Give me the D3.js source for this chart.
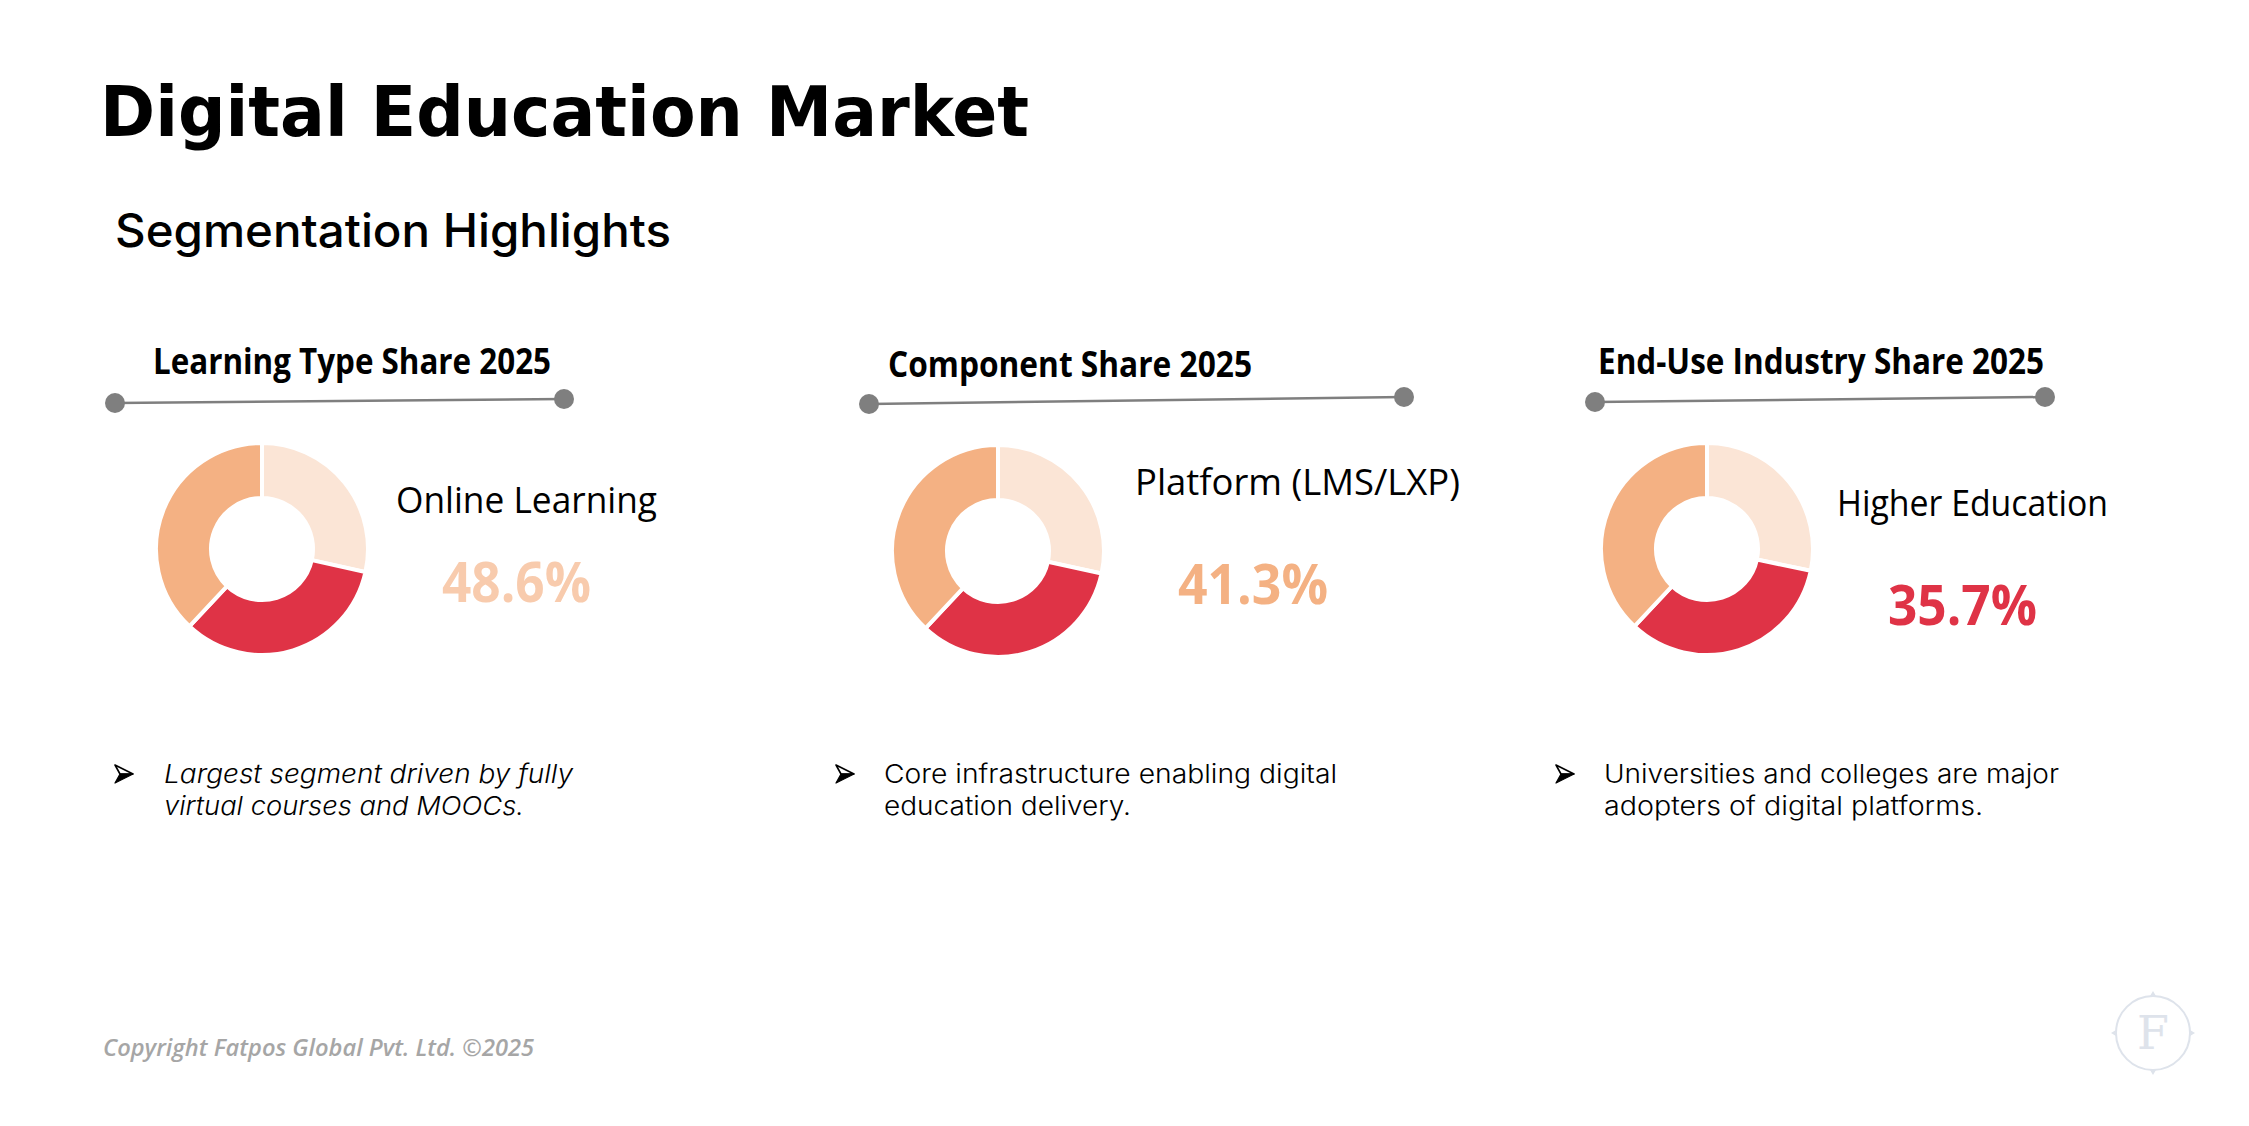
<!DOCTYPE html>
<html>
<head>
<meta charset="utf-8">
<script src="https://cdn.jsdelivr.net/npm/d3@7"></script>
<style>
    html, body { margin: 0; padding: 0; background: #ffffff; }
    svg { display: block; }
</style>
</head>
<body>
<div id="chart"></div>
<script>
'use strict';

// ---- data ----
const pageTitle = "Digital Education Market";
const sectionTitle = "Segmentation Highlights";
const panelTitles = ["Learning Type Share 2025", "Component Share 2025", "End-Use Industry Share 2025"];
const highlightLabels = ["Online Learning", "Platform (LMS/LXP)", "Higher Education"];
const highlightValues = [48.6, 41.3, 35.7];
// donut slices, clockwise from 12 o'clock: light, red, orange
const sliceNames = ["Other", "Blended", "Leading"];
const donutShares = [
    [28.5, 33.5, 38.0],
    [28.4, 33.6, 38.0],
    [28.3, 33.7, 38.0]
];
const bulletLines = [
    ["Largest segment driven by fully", "virtual courses and MOOCs."],
    ["Core infrastructure enabling digital", "education delivery."],
    ["Universities and colleges are major", "adopters of digital platforms."]
];
const copyrightText = "Copyright Fatpos Global Pvt. Ltd. \u00A92025";

// ---- styling ----
const sliceColors = ["#FBE5D6", "#DF3346", "#F4B183"];
const valueColors = ["#F8CBAD", "#F4B183", "#DF3346"];
const W = 2249, H = 1126;

// per-panel layout (measured from the slide)
const layout = [
    { title: [153, 374, 398], line: [115, 403, 564, 399], center: [262, 549],
      label: [396, 513, 261], value: [442, 602, 149], arrowX: 115, textX: 164, italic: true,
      bulletW: [409, 360] },
    { title: [888, 377, 364], line: [869, 404, 1404, 397], center: [998, 551],
      label: [1135, 495, 325], value: [1178, 604, 150], arrowX: 836, textX: 884, italic: false,
      bulletW: [453, 247] },
    { title: [1598, 374, 446], line: [1595, 402, 2045, 397], center: [1707, 549],
      label: [1837, 516, 271], value: [1888, 625, 149], arrowX: 1556, textX: 1604, italic: false,
      bulletW: [455, 379] }
];

const svg = d3.select('#chart').append('svg')
    .attr('width', W)
    .attr('height', H);

svg.append('rect').attr('width', W).attr('height', H).attr('fill', '#ffffff');

// headings
svg.append('text')
    .attr('x', 100).attr('y', 136)
    .attr('textLength', 929).attr('lengthAdjust', 'spacingAndGlyphs')
    .style('font-family', '"DejaVu Sans", Verdana, sans-serif')
    .style('font-weight', 'bold')
    .style('font-size', '70px')
    .attr('fill', '#000')
    .text(pageTitle);

svg.append('text')
    .attr('x', 115).attr('y', 247)
    .attr('textLength', 556).attr('lengthAdjust', 'spacingAndGlyphs')
    .style('font-family', 'Inter, sans-serif')
    .style('font-weight', 500)
    .style('font-size', '46px')
    .attr('fill', '#000')
    .text(sectionTitle);

const pie = d3.pie().sort(null).value(d => d);
const arc = d3.arc().innerRadius(51).outerRadius(106);

panelTitles.forEach((title, i) => {
    const L = layout[i];
    const g = svg.append('g').attr('class', 'panel');

    g.append('text')
        .attr('x', L.title[0]).attr('y', L.title[1])
        .attr('textLength', L.title[2]).attr('lengthAdjust', 'spacingAndGlyphs')
        .style('font-family', '"Open Sans", sans-serif')
        .style('font-weight', 'bold')
        .style('font-size', '36px')
        .attr('fill', '#000')
        .text(title);

    // connector line with end dots
    g.append('line')
        .attr('x1', L.line[0]).attr('y1', L.line[1])
        .attr('x2', L.line[2]).attr('y2', L.line[3])
        .attr('stroke', '#7f7f7f')
        .attr('stroke-width', 2.5);
    g.selectAll('circle.dot')
        .data([[L.line[0], L.line[1]], [L.line[2], L.line[3]]])
        .enter().append('circle')
        .attr('class', 'dot')
        .attr('cx', d => d[0]).attr('cy', d => d[1])
        .attr('r', 10)
        .attr('fill', '#7f7f7f');

    // donut
    const donut = g.append('g')
        .attr('transform', 'translate(' + L.center[0] + ',' + L.center[1] + ')');
    donut.selectAll('path')
        .data(pie(donutShares[i]))
        .enter().append('path')
        .attr('d', arc)
        .attr('fill', (d, j) => sliceColors[j])
        .attr('stroke', '#ffffff')
        .attr('stroke-width', 4)
        .append('title').text((d, j) => sliceNames[j] + ': ' + d.data + '%');

    g.append('text')
        .attr('x', L.label[0]).attr('y', L.label[1])
        .attr('textLength', L.label[2]).attr('lengthAdjust', 'spacingAndGlyphs')
        .style('font-family', '"Open Sans", sans-serif')
        .style('font-size', '37px')
        .attr('fill', '#000')
        .text(highlightLabels[i]);

    g.append('text')
        .attr('x', L.value[0]).attr('y', L.value[1])
        .attr('textLength', L.value[2]).attr('lengthAdjust', 'spacingAndGlyphs')
        .style('font-family', '"Open Sans", sans-serif')
        .style('font-weight', 'bold')
        .style('font-size', '55px')
        .attr('fill', valueColors[i])
        .text(highlightValues[i].toFixed(1) + '%');

    // bullet arrowhead (3-D style like the Wingdings one)
    const arrow = g.append('g')
        .attr('transform', 'translate(' + L.arrowX + ',765)');
    arrow.append('path')
        .attr('d', 'M0,0 L18,9 L5,9 Z')
        .attr('fill', '#ffffff')
        .attr('stroke', '#000')
        .attr('stroke-width', 1.6)
        .attr('stroke-linejoin', 'round');
    arrow.append('path')
        .attr('d', 'M5,9 L18,9 L0,18 Z')
        .attr('fill', '#000')
        .attr('stroke', '#000')
        .attr('stroke-width', 1.2)
        .attr('stroke-linejoin', 'round');

    g.selectAll('text.bullet')
        .data(bulletLines[i])
        .enter().append('text')
        .attr('class', 'bullet')
        .attr('x', L.textX)
        .attr('y', (d, j) => 783 + j * 32)
        .attr('textLength', (d, j) => L.bulletW[j]).attr('lengthAdjust', 'spacingAndGlyphs')
        .style('font-family', 'Inter, sans-serif')
        .style('font-weight', 300)
        .style('font-style', L.italic ? 'italic' : 'normal')
        .style('font-size', '26px')
        .attr('fill', '#000')
        .text(d => d);
});

// footer
svg.append('text')
    .attr('x', 103).attr('y', 1056)
    .attr('textLength', 431).attr('lengthAdjust', 'spacingAndGlyphs')
    .style('font-family', '"Open Sans", sans-serif')
    .style('font-style', 'italic')
    .style('font-weight', 600)
    .style('font-size', '23px')
    .attr('fill', '#A6A6A6')
    .text(copyrightText);

// faint logo mark
const logo = svg.append('g').attr('transform', 'translate(2153,1033)');
logo.append('circle')
    .attr('r', 37)
    .attr('fill', 'none')
    .attr('stroke', '#DEE3EB')
    .attr('stroke-width', 2);
[0, 90, 180, 270].forEach(a => {
    logo.append('path')
        .attr('d', 'M-3,-37 L0,-42 L3,-37 Z')
        .attr('transform', 'rotate(' + a + ')')
        .attr('fill', '#DEE3EB');
});
logo.append('text')
    .attr('y', 16)
    .attr('text-anchor', 'middle')
    .style('font-family', '"DejaVu Serif", "Liberation Serif", serif')
    .style('font-size', '46px')
    .attr('fill', '#DEE3EB')
    .text('F');
</script>
</body>
</html>
